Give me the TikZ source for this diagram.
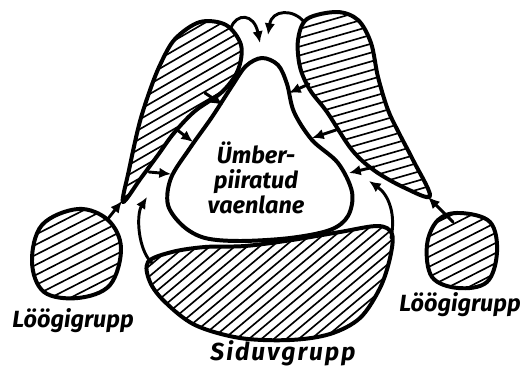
\documentclass[tikz,border=0pt]{standalone}
\usepackage{fontspec}
\setmainfont{Fira Sans}
\usetikzlibrary{arrows.meta}
\tikzset{
  x=0.03cm, y=-0.03cm,
  blob/.style={line width=3.4pt, line join=round},
  hatchline/.style={line width=1.4pt},
  arr/.style={line width=2.5pt, -{Latex[length=10pt,width=9pt]}, line cap=round},
  lbl/.style={font=\fontsize{20}{22}\selectfont\bfseries\itshape, inner sep=0pt},
}
\newcommand\hatchfill[5]{%
  \begin{scope}
    \clip #1;
    \foreach \k in {-22,...,22} {
      \draw[hatchline, rotate around={#2:(#3,#4)}] ({#3-180},{#4+\k*#5}) -- ({#3+180},{#4+\k*#5});
    }
  \end{scope}}
\def\enemyshape{plot[smooth cycle, tension=0.55] coordinates {
 (262,58) (278,65) (287,84) (294,112) (312,140) (338,163) (352,192) (348,216)
 (330,230) (290,238) (240,241) (205,238) (183,226) (168,205) (171,178)
 (190,148) (212,117) (232,86) (246,66)}}
\def\lwingshape{plot[smooth cycle, tension=0.55] coordinates {
 (123,202) (129,170) (139,125) (149,93) (160,65) (175,39) (200,22) (226,25)
 (241,45) (238,70) (222,92) (195,111) (174,133) (158,155) (141,178)}}
\def\rwingshape{plot[smooth cycle, tension=0.55] coordinates {
 (307,19) (337,12) (358,20) (371,43) (378,77) (388,110) (400,135) (413,160)
 (430,196) (405,188) (375,171) (352,150) (327,112) (310,90) (300,67) (298,40)}}
\def\lcircshape{plot[smooth cycle, tension=0.6] coordinates {
 (78,209) (108,220) (121,248) (110,285) (78,298) (44,292) (32,262) (42,225)}}
\def\rcircshape{plot[smooth cycle, tension=0.6] coordinates {
 (460,213) (490,222) (497,252) (487,282) (458,288) (432,277) (427,245) (438,220)}}
\def\sidshape{plot[smooth cycle, tension=0.55] coordinates {
 (148,262) (172,252) (205,247) (245,246) (292,240) (340,232) (378,226)
 (392,234) (390,258) (380,288) (360,318) (330,334) (290,340) (240,338)
 (195,325) (165,302) (150,282)}}
\begin{document}
\begin{tikzpicture}
\useasboundingbox (0,0) rectangle (531,366);
% hatching
\hatchfill{\lwingshape}{30}{190}{110}{8.5}
\hatchfill{\rwingshape}{16}{360}{100}{8.5}
\hatchfill{\lcircshape}{27}{77}{254}{9}
\hatchfill{\rcircshape}{27}{462}{250}{9}
\hatchfill{\sidshape}{40}{270}{290}{8}
% outlines
\draw[blob] \enemyshape;
\draw[blob] \lwingshape;
\draw[blob] \rwingshape;
\draw[blob] \lcircshape;
\draw[blob] \rcircshape;
\draw[blob] \sidshape;
% named ends
\coordinate (lcT) at (107,220); \coordinate (lwT) at (122,201);
\coordinate (rcT) at (453,222); \coordinate (rwT) at (428,197);
% arrows circles -> wing tips
\draw[arr] (lcT) -- (lwT);
\draw[arr] (rcT) -- (rwT);
% top arrows
\coordinate (tl0) at (231,28); \coordinate (tl1) at (260,43);
\coordinate (tr0) at (304,22); \coordinate (tr1) at (268,35);
\draw[arr] (tl0) .. controls (236,13) and (254,13) .. (tl1);
\draw[arr] (tr0) .. controls (294,9) and (272,9) .. (tr1);
% small arrows left
\coordinate (a1s) at (205,93); \coordinate (a1e) at (223,105);
\coordinate (a2s) at (176,129); \coordinate (a2e) at (193,142);
\coordinate (a3s) at (149,172); \coordinate (a3e) at (171,174);
\draw[arr] (a1s) -- (a1e);
\draw[arr] (a2s) -- (a2e);
\draw[arr] (a3s) -- (a3e);
% small arrows right
\coordinate (b1s) at (309,84); \coordinate (b1e) at (289,93);
\coordinate (b2s) at (336,130); \coordinate (b2e) at (312,138);
\coordinate (b3s) at (374,167); \coordinate (b3e) at (349,173);
\draw[arr] (b1s) -- (b1e);
\draw[arr] (b2s) -- (b2e);
\draw[arr] (b3s) -- (b3e);
% encircling arrows from siduvgrupp
\coordinate (l0) at (152,263); \coordinate (l1) at (147,197);
\coordinate (r0) at (391,238); \coordinate (r1) at (369,181);
\draw[arr] (l0) .. controls (138,250) and (136,215) .. (l1);
\draw[arr] (r0) .. controls (396,215) and (389,195) .. (r1);
% labels
\node[lbl, align=center, font=\fontsize{20}{21.5}\selectfont\bfseries\itshape] (enemy) at (256,178) {Ümber-\\piiratud\\vaenlane};
\node[lbl] (ll) at (73,321) {Löögigrupp};
\node[lbl] (rl) at (460,305) {Löögigrupp};
\node[lbl, font=\fontsize{21}{22}\selectfont\bfseries\itshape\addfontfeatures{LetterSpace=8}] (sl) at (283,353) {Siduvgrupp};
\end{tikzpicture}
\end{document}
